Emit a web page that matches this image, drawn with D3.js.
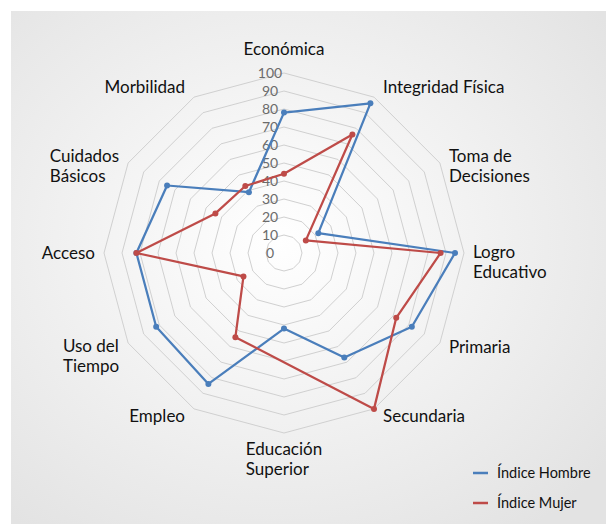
<!DOCTYPE html>
<html>
<head>
<meta charset="utf-8">
<script src="https://cdn.jsdelivr.net/npm/d3@7"></script>
<style>
  body { margin:0; background:#fff; }
  svg { display:block; font-family: Lato, "Open Sans", sans-serif; }
</style>
</head>
<body>
<svg width="606" height="524"></svg>
<script>
const categories = ["Económica","Integridad Física","Toma de\nDecisiones","Logro\nEducativo","Primaria","Secundaria","Educación\nSuperior","Empleo","Uso del\nTiempo","Acceso","Cuidados\nBásicos","Morbilidad"];
const hombre = [78, 96, 22, 95, 82, 67, 42, 84, 82, 82, 75, 39];
const mujer  = [44, 76, 14, 87, 72, 100, null, 54, 26, 82, 44, 43];
const ticks = [0,10,20,30,40,50,60,70,80,90,100];
const seriesNames = ["Índice Hombre","Índice Mujer"];
const colors = ["#4a7ebb","#be4b48"];

const svg = d3.select("svg");
const cx = 284, cy = 253;

// background panel
const grad = svg.append("defs").append("radialGradient")
  .attr("id","bg").attr("cx","45%").attr("cy","45%").attr("r","70%");
grad.append("stop").attr("offset","0%").attr("stop-color","#ffffff");
grad.append("stop").attr("offset","100%").attr("stop-color","#e3e3e3");
svg.append("rect").attr("x",11).attr("y",11).attr("width",595).attr("height",513).attr("fill","url(#bg)");

const rScale = d3.scaleLinear().domain([0,100]).range([0,180]);
const aScale = d3.scalePoint().domain(d3.range(categories.length)).range([0, 2*Math.PI*(categories.length-1)/categories.length]);

const px = (i,v) => cx + rScale(v)*Math.sin(aScale(i));
const py = (i,v) => cy - rScale(v)*Math.cos(aScale(i));

const g = svg.append("g");

// grid rings
g.selectAll(".ring")
  .data(ticks.filter(t => t > 0))
  .enter()
  .append("path")
  .attr("class","ring")
  .attr("d", t => d3.line().curve(d3.curveLinearClosed)(categories.map((c,i) => [px(i,t), py(i,t)])))
  .attr("fill","none")
  .attr("stroke","#d0d0d0")
  .attr("stroke-width",1);

// tick labels
g.selectAll(".tick")
  .data(ticks)
  .enter()
  .append("text")
  .attr("x", cx-14)
  .attr("y", t => cy - rScale(t))
  .attr("dy","0.35em")
  .attr("text-anchor","middle")
  .attr("font-size",14)
  .attr("fill","#6b6b6b")
  .text(t => t);

// series
[hombre, mujer].forEach((vals, s) => {
  const pts = vals.map((v,i) => ({i:i, v:v})).filter(d => d.v != null);
  g.append("path")
    .attr("d", d3.line().x(d => px(d.i,d.v)).y(d => py(d.i,d.v)).curve(d3.curveLinearClosed)(pts))
    .attr("fill","none")
    .attr("stroke",colors[s])
    .attr("stroke-width",2.25)
    .attr("stroke-linejoin","round");
  g.selectAll(".m"+s)
    .data(pts)
    .enter()
    .append("circle")
    .attr("cx", d => px(d.i,d.v))
    .attr("cy", d => py(d.i,d.v))
    .attr("r",3)
    .attr("fill",colors[s]);
});

// category labels
categories.forEach((c,i) => {
  const a = aScale(i), sn = Math.sin(a), cs = Math.cos(a);
  const vx = px(i,100), vy = py(i,100);
  const lines = c.split("\n");
  const lh = 20;
  let yc;
  if (cs > 0.99) yc = vy - 24;
  else if (cs < -0.99) yc = vy + 26;
  else yc = vy - (cs > 0 ? 12 : 8)*cs + (lines.length > 1 ? 9 : 0);
  const t = svg.append("text").attr("font-size",17).attr("fill","#111");
  lines.forEach((l,k) => {
    t.append("tspan").attr("y", yc + (k - (lines.length-1)/2)*lh).attr("dy","0.35em").text(l);
  });
  const w = d3.max(t.selectAll("tspan").nodes(), n => n.getComputedTextLength());
  let left;
  if (Math.abs(sn) < 0.01) left = vx - w/2;
  else if (sn > 0) left = vx + 9;
  else left = vx - 9 - w;
  t.selectAll("tspan").attr("x", left);
});

// legend
seriesNames.forEach((n,s) => {
  const ly = 473 + s*30;
  svg.append("line").attr("x1",473).attr("x2",488).attr("y1",ly).attr("y2",ly)
    .attr("stroke",colors[s]).attr("stroke-width",2.5);
  svg.append("text").attr("x",497).attr("y",ly).attr("dy","0.35em")
    .attr("font-size",14.5).attr("fill","#111").text(n);
});
</script>
</body>
</html>
